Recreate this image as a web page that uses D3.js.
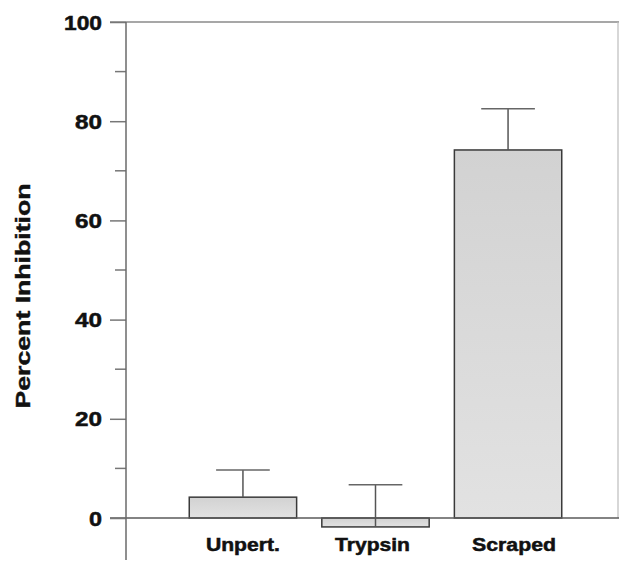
<!DOCTYPE html>
<html><head><meta charset="utf-8">
<script src="https://cdn.jsdelivr.net/npm/d3@7"></script>
<style>body{margin:0;background:#fff}svg{display:block}</style>
</head><body>
<script>
const categories = ["Unpert.", "Trypsin", "Scraped"];
const means = [4.2, -1.8, 74.2];
const errors = [5.5, 8.5, 8.3];
const yTicks = [0, 20, 40, 60, 80, 100];
const yTickLabels = ["0", "20", "40", "60", "80", "100"];
const yMinorTicks = [10, 30, 50, 70, 90];

const W = 620, H = 562;
const svg = d3.select("body").append("svg").attr("width", W).attr("height", H);
const font = "'Liberation Sans', Arial, Helvetica, sans-serif";

const y = d3.scaleLinear().domain([0, 100]).range([518, 22]);
const x = d3.scaleBand().domain(categories).range([176, 575]).paddingInner(0.19).paddingOuter(0.1);
const axisX = 126;

const defs = svg.append("defs");
const grad = defs.append("linearGradient").attr("id", "g").attr("x1", 0).attr("y1", 0).attr("x2", 0).attr("y2", 1);
grad.append("stop").attr("offset", "0%").attr("stop-color", "#d2d2d2");
grad.append("stop").attr("offset", "100%").attr("stop-color", "#e2e2e2");

// frame lines
svg.append("line").attr("x1", 110).attr("x2", 619).attr("y1", y(100)).attr("y2", y(100))
  .attr("stroke", "#8a8a8a").attr("stroke-width", 1.5);
svg.append("line").attr("x1", 618).attr("x2", 618).attr("y1", y(100)).attr("y2", y(0))
  .attr("stroke", "#bdbdbd").attr("stroke-width", 1.2);

// bars
svg.selectAll("rect.bar").data(categories).enter().append("rect")
  .attr("class", "bar")
  .attr("x", d => x(d))
  .attr("width", x.bandwidth())
  .attr("y", (d, i) => y(Math.max(0, means[i])))
  .attr("height", (d, i) => Math.abs(y(means[i]) - y(0)))
  .attr("fill", "url(#g)")
  .attr("stroke", "#3a3a3a").attr("stroke-width", 1.5);

// baseline
svg.append("line").attr("x1", 110).attr("x2", 619).attr("y1", y(0)).attr("y2", y(0))
  .attr("stroke", "#5a5a5a").attr("stroke-width", 1.5);

// error bars
const eb = svg.selectAll("g.eb").data(categories).enter().append("g").attr("class", "eb");
eb.append("line")
  .attr("x1", d => x(d) + x.bandwidth() / 2).attr("x2", d => x(d) + x.bandwidth() / 2)
  .attr("y1", (d, i) => y(means[i])).attr("y2", (d, i) => y(means[i] + errors[i]))
  .attr("stroke", "#555").attr("stroke-width", 1.5);
eb.append("line")
  .attr("x1", d => x(d) + x.bandwidth() / 4).attr("x2", d => x(d) + 3 * x.bandwidth() / 4)
  .attr("y1", (d, i) => y(means[i] + errors[i])).attr("y2", (d, i) => y(means[i] + errors[i]))
  .attr("stroke", "#666").attr("stroke-width", 1.5);

// y axis
const yAxis = d3.axisLeft(y).tickValues(yTicks).tickSize(16).tickPadding(8)
  .tickFormat((d, i) => yTickLabels[i]);
const ga = svg.append("g").attr("transform", `translate(${axisX},0)`).call(yAxis);
ga.select(".domain").remove();
ga.selectAll(".tick line").attr("stroke", "#777").attr("stroke-width", 1.5);
ga.selectAll(".tick text").attr("font-family", font).attr("font-weight", "bold")
  .attr("font-size", 20).attr("fill", "#111").attr("stroke", "#111").attr("stroke-width", 0.5)
  .attr("dy", "0.35em")
  .attr("textLength", d => d === 100 ? 38 : (d === 0 ? 13 : 27)).attr("lengthAdjust", "spacingAndGlyphs");
svg.append("g").selectAll("line").data(yMinorTicks).enter().append("line")
  .attr("x1", axisX - 11).attr("x2", axisX).attr("y1", d => y(d)).attr("y2", d => y(d))
  .attr("stroke", "#777").attr("stroke-width", 1.5);
svg.append("line").attr("x1", axisX).attr("x2", axisX).attr("y1", y(100)).attr("y2", 560)
  .attr("stroke", "#6a6a6a").attr("stroke-width", 1.5);

// x labels
const labelLen = {"Unpert.": 74, "Trypsin": 75, "Scraped": 84};
svg.selectAll("text.xl").data(categories).enter().append("text")
  .attr("class", "xl")
  .attr("x", d => x(d) + x.bandwidth() / 2 + (d === "Trypsin" ? -3 : (d === "Scraped" ? 6 : 0)))
  .attr("y", 551)
  .attr("text-anchor", "middle")
  .attr("font-family", font).attr("font-weight", "bold").attr("font-size", 18)
  .attr("fill", "#111").attr("stroke", "#111").attr("stroke-width", 0.5)
  .attr("textLength", d => labelLen[d]).attr("lengthAdjust", "spacingAndGlyphs")
  .text(d => d);

// y title
svg.append("text")
  .attr("transform", "translate(30,296) rotate(-90)")
  .attr("text-anchor", "middle")
  .attr("font-family", font).attr("font-weight", "bold").attr("font-size", 21)
  .attr("fill", "#111").attr("stroke", "#111").attr("stroke-width", 0.4)
  .attr("textLength", 225).attr("lengthAdjust", "spacingAndGlyphs")
  .text("Percent Inhibition");
</script>
</body></html>
